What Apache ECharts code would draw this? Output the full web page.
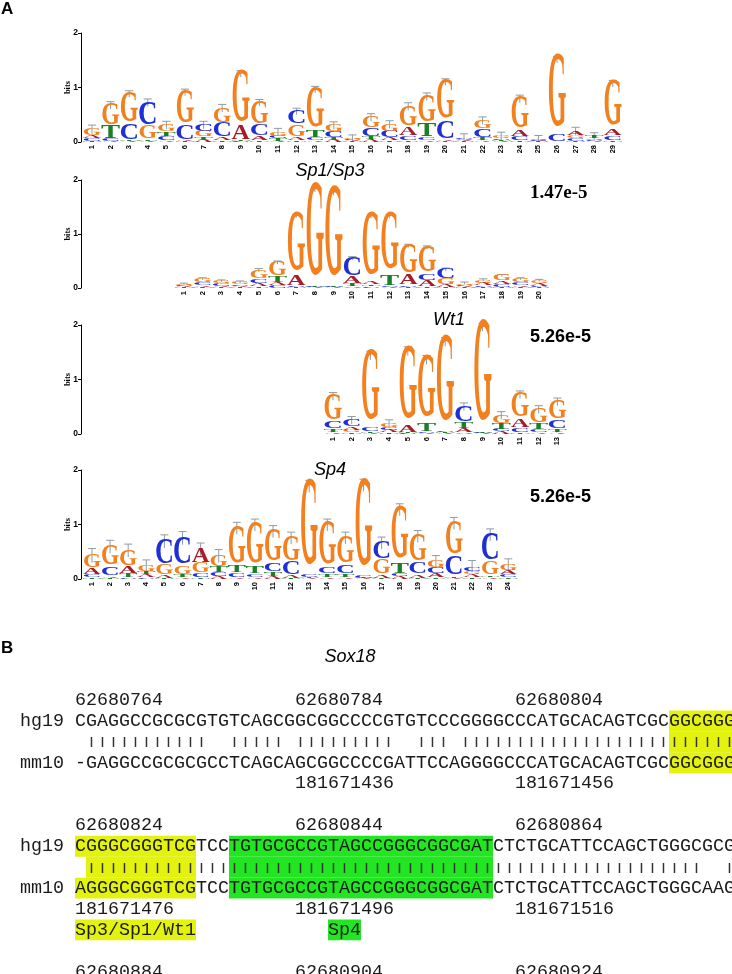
<!DOCTYPE html>
<html><head><meta charset="utf-8">
<script src="https://cdn.jsdelivr.net/npm/echarts@6/dist/echarts.min.js"></script>
<style>html,body{margin:0;padding:0;background:#fff}#c{width:732px;height:974px}</style>
</head><body><div id="c"></div><script>
// ---------------- DATA: sequence logos (bits per letter) ----------------
const logo1Pos = ['1','2','3','4','5','6','7','8','9','10','11','12','13','14','15','16','17','18','19','20','21','22','23','24','25','26','27','28','29'];
const logo1A = [0.05,0.01,0.01,0.02,0.03,0.02,0.04,0.05,0.25,0.07,0.02,0.06,0.03,0.04,0.02,0.04,0.04,0.16,0.03,0.02,0.02,0.03,0.02,0.09,0.015,0.005,0.08,0.01,0.11];
const logo1C = [0.04,0.04,0.29,0.44,0.07,0.26,0.12,0.26,0.01,0.20,0.05,0.25,0.05,0.10,0.02,0.15,0.12,0.08,0.06,0.33,0.03,0.15,0.03,0.07,0.015,0.12,0.04,0.02,0.09];
const logo1G = [0.12,0.40,0.57,0.24,0.13,0.62,0.10,0.28,0.98,0.42,0.07,0.22,0.76,0.12,0.02,0.20,0.13,0.38,0.50,0.74,0.02,0.16,0.04,0.60,0.02,1.38,0.06,0.03,0.85];
const logo1T = [0.02,0.22,0.01,0.02,0.08,0.01,0.05,0.03,0.01,0.03,0.04,0.03,0.12,0.04,0.01,0.06,0.03,0.03,0.24,0.01,0.01,0.05,0.02,0.03,0.01,0.005,0.02,0.04,0.02];
const logo1Err = [0.08,0.07,0.06,0.07,0.07,0.06,0.07,0.07,0.06,0.06,0.07,0.06,0.06,0.07,0.06,0.07,0.07,0.07,0.07,0.06,0.07,0.07,0.07,0.07,0.06,0.06,0.07,0.07,0.06];

const logo2Pos = ['1','2','3','4','5','6','7','8','9','10','11','12','13','14','15','16','17','18','19','20'];
const logo2A = [0.02,0.03,0.03,0.03,0.06,0.06,0.18,0.01,0.01,0.12,0.06,0.02,0.18,0.10,0.04,0.02,0.04,0.06,0.03,0.04];
const logo2C = [0.02,0.05,0.04,0.03,0.07,0.04,0.02,0.02,0.02,0.35,0.03,0.02,0.03,0.12,0.18,0.03,0.03,0.05,0.05,0.03];
const logo2G = [0.02,0.07,0.05,0.04,0.17,0.27,1.12,1.77,1.71,0.03,1.20,1.10,0.55,0.50,0.10,0.03,0.06,0.10,0.07,0.06];
const logo2T = [0.01,0.02,0.01,0.01,0.03,0.10,0.01,0.01,0.01,0.05,0.03,0.18,0.02,0.03,0.02,0.01,0.02,0.02,0.02,0.01];
const logo2Err = [0.02,0.02,0.02,0.02,0.03,0.03,0.03,0.03,0.03,0.03,0.03,0.03,0.03,0.03,0.03,0.02,0.02,0.02,0.02,0.02];

const logo3Pos = ['1','2','3','4','5','6','7','8','9','10','11','12','13'];
const logo3A = [0.03,0.06,0.02,0.04,0.12,0.02,0.02,0.07,0.01,0.04,0.16,0.03,0.03];
const logo3C = [0.12,0.12,0.08,0.05,0.01,0.02,0.03,0.29,0.01,0.05,0.08,0.06,0.15];
const logo3G = [0.48,0.04,1.32,0.07,1.38,1.16,1.62,0.03,1.93,0.16,0.45,0.27,0.35];
const logo3T = [0.06,0.03,0.02,0.03,0.01,0.16,0.02,0.11,0.01,0.09,0.03,0.09,0.06];
const logo3Err = [0.07,0.07,0.08,0.07,0.08,0.08,0.08,0.07,0.07,0.07,0.07,0.07,0.07];

const logo4Pos = ['1','2','3','4','5','6','7','8','9','10','11','12','13','14','15','16','17','18','19','20','21','22','23','24'];
const logo4A = [0.10,0.03,0.12,0.05,0.04,0.03,0.25,0.05,0.03,0.03,0.04,0.05,0.01,0.03,0.03,0.01,0.05,0.05,0.06,0.07,0.02,0.05,0.03,0.07];
const logo4C = [0.05,0.17,0.02,0.03,0.45,0.52,0.08,0.07,0.08,0.06,0.15,0.23,0.06,0.10,0.17,0.05,0.32,0.05,0.20,0.10,0.36,0.09,0.50,0.06];
const logo4G = [0.25,0.37,0.30,0.10,0.18,0.15,0.18,0.20,0.70,0.78,0.60,0.45,1.62,0.80,0.50,1.65,0.27,1.00,0.50,0.12,0.62,0.06,0.25,0.10];
const logo4T = [0.03,0.02,0.08,0.05,0.02,0.05,0.03,0.10,0.12,0.12,0.08,0.02,0.01,0.06,0.05,0.01,0.02,0.17,0.02,0.03,0.02,0.03,0.03,0.03];
const logo4Err = [0.13,0.12,0.12,0.12,0.12,0.12,0.12,0.12,0.11,0.11,0.11,0.11,0.11,0.11,0.11,0.11,0.11,0.11,0.11,0.11,0.11,0.11,0.11,0.11];

const logoTitles = ['', 'Sp1/Sp3', 'Wt1', 'Sp4'];
const logoPvalues = ['', '1.47e-5', '5.26e-5', '5.26e-5'];

// ---------------- DATA: alignment ----------------
const hg19Seq = ['CGAGGCCGCGCGTGTCAGCGGCGGCCCCGTGTCCCGGGGCCCATGCACAGTCGCGGCGGG',
                 'CGGGCGGGTCGTCCTGTGCGCCGTAGCCGGGCGGCGATCTCTGCATTCCAGCTGGGCGCG'];
const mm10Seq  = ['-GAGGCCGCGCGCCTCAGCAGCGGCCCCGATTCCAGGGGCCCATGCACAGTCGCGGCGGG',
                  'AGGGCGGGTCGTCCTGTGCGCCGTAGCCGGGCGGCGATCTCTGCATTCCAGCTGGGCAAG'];
const hg19Coord = [['62680764','62680784','62680804'],['62680824','62680844','62680864'],['62680884','62680904','62680924']];
const mm10Coord = [['','181671436','181671456'],['181671476','181671496','181671516']];
const coordCols = [1, 21, 41];
const motifNames = ['Sp3/Sp1/Wt1', 'Sp4'];
const motifRanges = [[[0,55,60],[1,1,11]], [[1,15,38]]];   // [block, firstCol, lastCol]
const motifLabelCols = [1, 24];

// ---------------- STYLE / LAYOUT ----------------
const COLORS = {A:'#a81c2a', C:'#1f2fd6', G:'#f2801e', T:'#1b7f24'};
const INK_W = {A:0.71, C:0.67, G:0.75, T:0.63};
const INK_H = {A:0.662, C:0.695, G:0.695, T:0.662};
const ERR_COLOR = '#8d9ca8';
const HL = ['#e3f20f', '#22e622'];
const blockRowBase = [0, 6, 13];
const MONO = '18.33px "Liberation Mono"';

const panels = [
  {pos:logo1Pos, A:logo1A, C:logo1C, G:logo1G, T:logo1T, E:logo1Err, left:82.7, width:29*18.6, top:33, height:109},
  {pos:logo2Pos, A:logo2A, C:logo2C, G:logo2G, T:logo2T, E:logo2Err, left:174.65, width:20*18.7, top:180, height:108},
  {pos:logo3Pos, A:logo3A, C:logo3C, G:logo3G, T:logo3T, E:logo3Err, left:323.65, width:13*18.7, top:325, height:109},
  {pos:logo4Pos, A:logo4A, C:logo4C, G:logo4G, T:logo4T, E:logo4Err, left:82.95, width:24*18.1, top:470, height:109}
];
const AXIS_X = 81;

function logoRender(params, api) {
  const idx = api.value(0);
  const h = {A: api.value(1), C: api.value(2), G: api.value(3), T: api.value(4)};
  const err = api.value(5);
  const bw = api.size([1, 0])[0];
  const cx = api.coord([idx, 0])[0];
  const order = ['A','C','G','T'].sort((a, b) => h[a] - h[b]);
  const total = h.A + h.C + h.G + h.T;
  const children = [];
  const yHi = api.coord([idx, total + err])[1];
  const yLo = api.coord([idx, Math.max(0, total - err)])[1];
  children.push({type:'line', shape:{x1:cx, y1:yLo, x2:cx, y2:yHi}, style:{stroke:ERR_COLOR, lineWidth:1}});
  children.push({type:'line', shape:{x1:cx - bw*0.22, y1:yHi, x2:cx + bw*0.22, y2:yHi}, style:{stroke:ERR_COLOR, lineWidth:1}});
  let cum = 0;
  const colW = bw * 0.97;
  order.forEach(L => {
    const v = h[L];
    if (v <= 0.002) { cum += v; return; }
    const y0 = api.coord([idx, cum])[1];
    const y1 = api.coord([idx, cum + v])[1];
    cum += v;
    const hp = y0 - y1;
    children.push({
      type:'text', x:cx, y:(y0 + y1) / 2,
      scaleX: colW / (INK_W[L] * 100), scaleY: hp / (INK_H[L] * 100),
      style:{text:L, font:'bold 100px "Liberation Serif"', fill:COLORS[L],
             align:'center', verticalAlign:'middle', textAlign:'center', textVerticalAlign:'middle'}
    });
  });
  return {type:'group', children};
}

const grids = [], xAxes = [], yAxes = [], series = [];
const graphic = [];
panels.forEach((p, k) => {
  grids.push({left:p.left, top:p.top, width:p.width, height:p.height, outerBoundsMode:'none', containLabel:false});
  xAxes.push({gridIndex:k, type:'category', data:p.pos, boundaryGap:true,
    axisLine:{show:false}, axisTick:{show:false}, splitLine:{show:false},
    axisLabel:{rotate:90, interval:0, fontSize:7.5, fontWeight:'bold', color:'#000', margin:3, fontFamily:'Liberation Sans'}});
  yAxes.push({gridIndex:k, type:'value', min:0, max:2, interval:1, position:'left', offset:p.left - AXIS_X,
    axisLine:{show:true, lineStyle:{color:'#000', width:1}},
    axisTick:{show:true, length:3, lineStyle:{color:'#000'}},
    axisLabel:{fontSize:8.5, fontWeight:'bold', color:'#000', margin:3, fontFamily:'Liberation Sans'},
    splitLine:{show:false}});
  graphic.push({type:'text', x:68, y:p.top + p.height / 2, rotation:Math.PI / 2, silent:true,
    style:{text:'bits', font:'bold 8.5px "Liberation Serif"', fill:'#000', align:'center', verticalAlign:'middle', textAlign:'center', textVerticalAlign:'middle'}});
  series.push({type:'custom', xAxisIndex:k, yAxisIndex:k, renderItem:logoRender, silent:true, clip:false,
    encode:{x:0, y:1},
    data:p.A.map((a, i) => [i, a, p.C[i], p.G[i], p.T[i], p.E[i]])});
});

// ---------------- alignment items ----------------
const textItems = [];   // {col, row, text, squash}
const hlItems = [];     // {c0, c1, row, color}
blockRowBase.forEach((r0, bi) => {
  (hg19Coord[bi] || []).forEach((t, j) => { if (t) textItems.push({col:coordCols[j], row:r0, text:t}); });
  if (hg19Seq[bi]) {
    const hs = hg19Seq[bi], ms = mm10Seq[bi];
    let match = '';
    for (let i = 0; i < hs.length; i++) match += (hs[i] === ms[i] && hs[i] !== '-') ? '|' : ' ';
    textItems.push({col:-4, row:r0 + 1, text:'hg19'});
    textItems.push({col:1, row:r0 + 1, text:hs});
    textItems.push({col:1, row:r0 + 2, text:match, squash:true});
    textItems.push({col:-4, row:r0 + 3, text:'mm10'});
    textItems.push({col:1, row:r0 + 3, text:ms});
    (mm10Coord[bi] || []).forEach((t, j) => { if (t) textItems.push({col:coordCols[j], row:r0 + 4, text:t}); });
    motifRanges.forEach((ranges, m) => {
      ranges.forEach(([b, c0, c1]) => {
        if (b !== bi) return;
        hlItems.push({c0, c1, row:r0 + 1, color:HL[m]});
        hlItems.push({c0, c1, row:r0 + 3, color:HL[m]});
        let s = -1;
        for (let c = c0; c <= c1 + 1; c++) {
          const bar = c <= c1 && match[c - 1] === '|';
          if (bar && s < 0) s = c;
          if (!bar && s >= 0) { hlItems.push({c0:s, c1:c - 1, row:r0 + 2, color:HL[m]}); s = -1; }
        }
      });
    });
  }
});
motifNames.forEach((name, m) => {
  const row = blockRowBase[1] + 5;
  textItems.push({col:motifLabelCols[m], row, text:name});
  hlItems.push({c0:motifLabelCols[m], c1:motifLabelCols[m] + name.length - 1, row, color:HL[m]});
});

const G = panels.length;
grids.push({left:20, width:715, top:689.55, height:14*20.9, outerBoundsMode:'none', containLabel:false});
xAxes.push({gridIndex:G, type:'value', min:-5, max:60, show:false});
yAxes.push({gridIndex:G, type:'value', min:-0.5, max:13.5, inverse:true, show:false});
series.push({type:'custom', xAxisIndex:G, yAxisIndex:G, silent:true, clip:false, z:1,
  encode:{x:0, y:2},
  data:hlItems.map(o => [o.c0, o.c1, o.row]),
  renderItem:(params, api) => {
    const o = hlItems[params.dataIndex];
    const p0 = api.coord([o.c0 - 1, o.row - 0.5]);
    const p1 = api.coord([o.c1, o.row + 0.5]);
    return {type:'rect', shape:{x:p0[0], y:p0[1], width:p1[0]-p0[0], height:p1[1]-p0[1]}, style:{fill:o.color}};
  }});
series.push({type:'custom', xAxisIndex:G, yAxisIndex:G, silent:true, clip:false, z:2,
  encode:{x:0, y:1},
  data:textItems.map(o => [o.col, o.row]),
  renderItem:(params, api) => {
    const o = textItems[params.dataIndex];
    const p = api.coord([o.col - 1, o.row]);
    return {type:'text', x:p[0], y:p[1] + (o.squash ? 0.5 : 0), scaleY:o.squash ? 0.62 : 1,
      style:{text:o.text, font:MONO, fill:o.squash ? '#333' : '#1a1a1a', align:'left', verticalAlign:'middle', textAlign:'left', textVerticalAlign:'middle'}};
  }});

function label(text, x, y, font, align) {
  return {type:'text', x, y, silent:true,
    style:{text, font, fill:'#000', align:align || 'center', verticalAlign:'middle', textAlign:align || 'center', textVerticalAlign:'middle'}};
}
const ITAL = 'italic 18px "Liberation Sans"';
graphic.push(
  label('A', 1, 9, 'bold 17px "Liberation Sans"', 'left'),
  label(logoTitles[1], 330, 171, ITAL),
  label(logoPvalues[1], 530, 193, 'bold 19px "Liberation Serif"', 'left'),
  label(logoTitles[2], 449, 320, ITAL),
  label(logoPvalues[2], 530, 337, 'bold 18px "Liberation Sans"', 'left'),
  label(logoTitles[3], 330, 470, ITAL),
  label(logoPvalues[3], 530, 497, 'bold 18px "Liberation Sans"', 'left'),
  label('B', 1, 648, 'bold 17px "Liberation Sans"', 'left'),
  label('Sox18', 350, 657, ITAL)
);

const chart = echarts.init(document.getElementById('c'), null, {renderer:'canvas'});
chart.setOption({
  animation:false,
  backgroundColor:'#fff',
  grid:grids, xAxis:xAxes, yAxis:yAxes, series, graphic
});
</script></body></html>
